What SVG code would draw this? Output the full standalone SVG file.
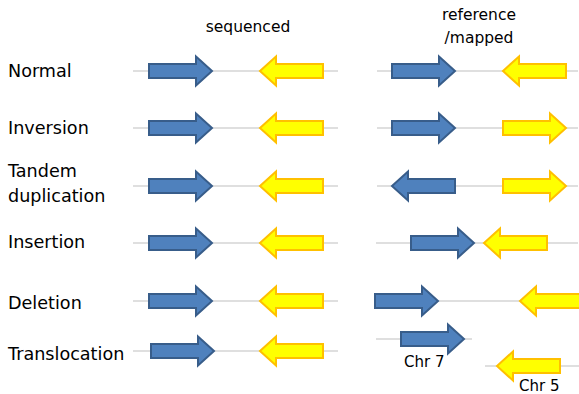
<svg xmlns="http://www.w3.org/2000/svg" width="579" height="394" viewBox="0 0 579 394">
<style>
text{font-family:"DejaVu Sans",Verdana,sans-serif;fill:#000}
.lbl{font-size:17.6px}
.hdr{font-size:15.5px}
.chr{font-size:15px}
.ln{stroke:#d4d4d4;stroke-width:1.5;fill:none}
.b{fill:#4f81bd;stroke:#385d8a;stroke-width:2}
.y{fill:#ffff00;stroke:#ffc000;stroke-width:2}
</style>
<defs>
<path id="ar" d="M0,-7 H47 V-14.5 L63,0 L47,14.5 V7 H0 Z"/>
<path id="al" d="M0,0 L16,-14.5 V-7 H63 V7 H16 V14.5 Z"/>
</defs>
<rect width="579" height="394" fill="#fff"/>
<g id="headers">
<text class="hdr" x="248" y="32" text-anchor="middle">sequenced</text>
<text class="hdr" x="479" y="20" text-anchor="middle">reference</text>
<text class="hdr" x="479" y="43" text-anchor="middle">/mapped</text>
</g>
<g id="connectors">
<line class="ln" x1="133" y1="71" x2="338" y2="71"/>
<line class="ln" x1="377" y1="71" x2="578" y2="71"/>
<line class="ln" x1="133" y1="128" x2="338" y2="128"/>
<line class="ln" x1="377" y1="128" x2="578" y2="128"/>
<line class="ln" x1="133" y1="186" x2="338" y2="186"/>
<line class="ln" x1="377" y1="186" x2="578" y2="186"/>
<line class="ln" x1="133" y1="243" x2="338" y2="243"/>
<line class="ln" x1="376" y1="243" x2="578" y2="243"/>
<line class="ln" x1="133" y1="301" x2="338" y2="301"/>
<line class="ln" x1="375" y1="301" x2="579" y2="301"/>
<line class="ln" x1="133" y1="351" x2="338" y2="351"/>
<line class="ln" x1="376" y1="339" x2="472" y2="339"/>
<line class="ln" x1="485" y1="366" x2="579" y2="366"/>
</g>
<g id="normal">
<text class="lbl" x="8" y="77">Normal</text>
<use href="#ar" class="b" x="149" y="71"/>
<use href="#al" class="y" x="260" y="71"/>
<use href="#ar" class="b" x="392" y="71"/>
<use href="#al" class="y" x="503" y="71"/>
</g>
<g id="inversion">
<text class="lbl" x="8" y="134">Inversion</text>
<use href="#ar" class="b" x="149" y="128"/>
<use href="#al" class="y" x="260" y="128"/>
<use href="#ar" class="b" x="392" y="128"/>
<use href="#ar" class="y" x="503" y="128"/>
</g>
<g id="tandem">
<text class="lbl" x="8" y="177">Tandem</text>
<text class="lbl" x="8" y="202">duplication</text>
<use href="#ar" class="b" x="149" y="186"/>
<use href="#al" class="y" x="260" y="186"/>
<use href="#al" class="b" x="392" y="186"/>
<use href="#ar" class="y" x="503" y="186"/>
</g>
<g id="insertion">
<text class="lbl" x="8" y="248">Insertion</text>
<use href="#ar" class="b" x="149" y="243"/>
<use href="#al" class="y" x="260" y="243"/>
<use href="#ar" class="b" x="411" y="243"/>
<use href="#al" class="y" x="484" y="243"/>
</g>
<g id="deletion">
<text class="lbl" x="8" y="309">Deletion</text>
<use href="#ar" class="b" x="149" y="301"/>
<use href="#al" class="y" x="260" y="301"/>
<use href="#ar" class="b" x="375" y="301"/>
<use href="#al" class="y" x="520" y="301"/>
</g>
<g id="translocation">
<text class="lbl" x="8" y="360">Translocation</text>
<use href="#ar" class="b" x="151" y="351"/>
<use href="#al" class="y" x="260" y="351"/>
<use href="#ar" class="b" x="401" y="339"/>
<text class="chr" x="404" y="367">Chr 7</text>
<use href="#al" class="y" x="497" y="366"/>
<text class="chr" x="519" y="391">Chr 5</text>
</g>
</svg>
